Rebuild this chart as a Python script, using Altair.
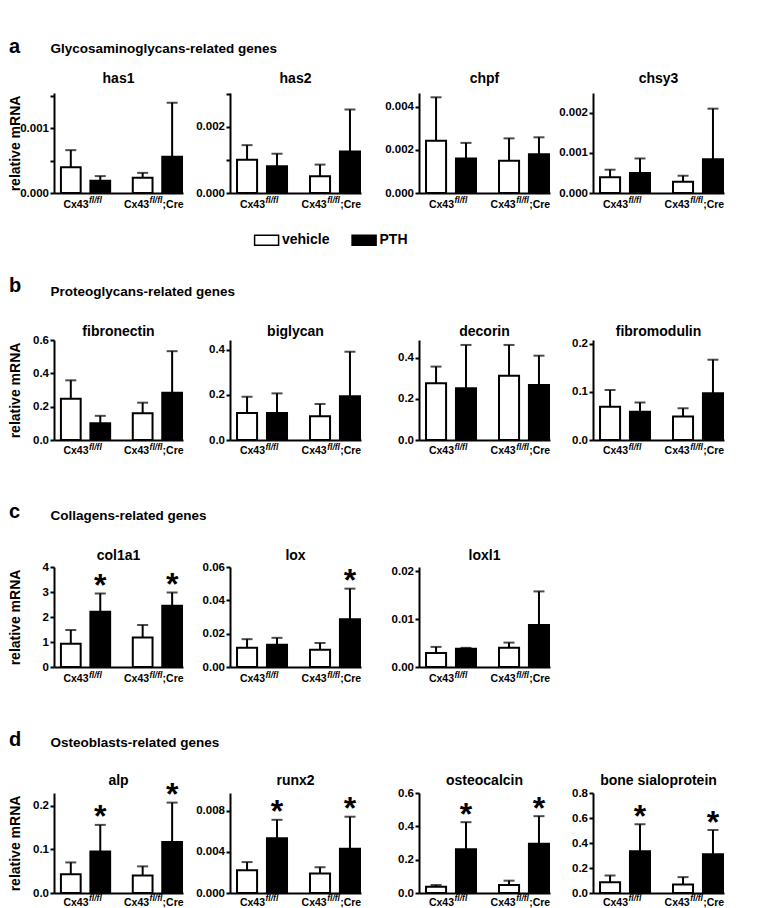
import altair as alt
import pandas as pd

FONT = "Liberation Sans"

genotypes = ["Cx43fl/fl", "Cx43fl/fl;Cre"]
treatments = ["vehicle", "PTH"]

section_letters = ["a", "b", "c", "d"]
section_titles = [
    "Glycosaminoglycans-related genes",
    "Proteoglycans-related genes",
    "Collagens-related genes",
    "Osteoblasts-related genes",
]
row_genes = [
    ["has1", "has2", "chpf", "chsy3"],
    ["fibronectin", "biglycan", "decorin", "fibromodulin"],
    ["col1a1", "lox", "loxl1"],
    ["alp", "runx2", "osteocalcin", "bone sialoprotein"],
]

# order: fl/fl vehicle, fl/fl PTH, fl/fl;Cre vehicle, fl/fl;Cre PTH
mean_vals = {
    "has1": [0.000395, 0.00019, 0.000235, 0.00056],
    "has2": [0.00101, 0.00081, 0.00051, 0.00126],
    "chpf": [0.00243, 0.00161, 0.0015, 0.0018],
    "chsy3": [0.00039, 0.0005, 0.00028, 0.00084],
    "fibronectin": [0.248, 0.101, 0.161, 0.284],
    "biglycan": [0.12, 0.12, 0.105, 0.194],
    "decorin": [0.275, 0.251, 0.312, 0.267],
    "fibromodulin": [0.069, 0.059, 0.049, 0.097],
    "col1a1": [0.93, 2.21, 1.18, 2.45],
    "lox": [0.0115, 0.0134, 0.0103, 0.0286],
    "loxl1": [0.0029, 0.0038, 0.004, 0.0088],
    "alp": [0.043, 0.095, 0.04, 0.117],
    "runx2": [0.0022, 0.0053, 0.0019, 0.0043],
    "osteocalcin": [0.038, 0.262, 0.048, 0.296],
    "bone sialoprotein": [0.087, 0.334, 0.068, 0.31],
}
upper_vals = {
    "has1": [0.00066, 0.00026, 0.00031, 0.00139],
    "has2": [0.00145, 0.00119, 0.00086, 0.00253],
    "chpf": [0.00445, 0.00233, 0.00254, 0.00259],
    "chsy3": [0.00058, 0.00086, 0.00043, 0.0021],
    "fibronectin": [0.358, 0.145, 0.224, 0.533],
    "biglycan": [0.192, 0.207, 0.16, 0.392],
    "decorin": [0.356, 0.461, 0.461, 0.409],
    "fibromodulin": [0.104, 0.078, 0.066, 0.167],
    "col1a1": [1.48, 2.94, 1.68, 2.98],
    "lox": [0.0167, 0.0175, 0.0144, 0.047],
    "loxl1": [0.0042, 0.004, 0.0051, 0.0158],
    "alp": [0.07, 0.156, 0.061, 0.207],
    "runx2": [0.003, 0.0071, 0.0025, 0.0074],
    "osteocalcin": [0.048, 0.425, 0.074, 0.461],
    "bone sialoprotein": [0.14, 0.55, 0.127, 0.504],
}
star_flags = {
    "col1a1": [0, 1, 0, 1],
    "lox": [0, 0, 0, 1],
    "alp": [0, 1, 0, 1],
    "runx2": [0, 1, 0, 1],
    "osteocalcin": [0, 1, 0, 1],
    "bone sialoprotein": [0, 1, 0, 1],
}
y_top = {
    "has1": 0.00154, "has2": 0.00303, "chpf": 0.00465, "chsy3": 0.00249,
    "fibronectin": 0.6, "biglycan": 0.444, "decorin": 0.485, "fibromodulin": 0.208,
    "col1a1": 4.0, "lox": 0.06, "loxl1": 0.0209,
    "alp": 0.229, "runx2": 0.0097, "osteocalcin": 0.6, "bone sialoprotein": 0.8,
}
y_ticks = {
    "has1": [0, 0.0005, 0.001, 0.0015], "has2": [0, 0.001, 0.002, 0.003],
    "chpf": [0, 0.002, 0.004], "chsy3": [0, 0.001, 0.002],
    "fibronectin": [0, 0.2, 0.4, 0.6], "biglycan": [0, 0.2, 0.4],
    "decorin": [0, 0.2, 0.4], "fibromodulin": [0, 0.1, 0.2],
    "col1a1": [0, 1, 2, 3, 4], "lox": [0, 0.02, 0.04, 0.06], "loxl1": [0, 0.01, 0.02],
    "alp": [0, 0.1, 0.2], "runx2": [0, 0.004, 0.008],
    "osteocalcin": [0, 0.2, 0.4, 0.6], "bone sialoprotein": [0, 0.2, 0.4, 0.6, 0.8],
}
y_unlabeled = {"has1": [0.0005, 0.0015], "has2": [0.001, 0.003]}
y_fmt = {
    "has1": ".3f", "has2": ".3f", "chpf": ".3f", "chsy3": ".3f",
    "fibronectin": ".1f", "biglycan": ".1f", "decorin": ".1f", "fibromodulin": ".1f",
    "col1a1": "d", "lox": ".2f", "loxl1": ".2f",
    "alp": ".1f", "runx2": ".3f", "osteocalcin": ".1f", "bone sialoprotein": ".1f",
}
# x label pieces: (genotype, text, dx, dy, size, style, align)
x_label_parts = [
    (genotypes[0], "Cx43", 3, 0, 10.5, "normal", "right"),
    (genotypes[0], "fl/fl", 3.5, -4.4, 8.5, "italic", "left"),
    (genotypes[1], "Cx43", -8.3, 0, 10.5, "normal", "right"),
    (genotypes[1], "fl/fl", -7.8, -4.4, 8.5, "italic", "left"),
    (genotypes[1], ";Cre", 5.2, 0, 10.5, "normal", "left"),
]

# layout
plot_w = [129, 131, 131, 131]
cell_w = [132.4, 146, 131, 131]
ROW_H = 100
header_h = [63, 146.3, 126.4, 125.8]
title_y = [-9.7, -4.3, -7.4, -8.2]
xlabel_y = [14.5, 14, 15, 12.5]
letter_y = [22.7, 99, 77.7, 79.3]
htext_y = [22.7, 103, 79.7, 80.3]

legend = alt.Legend(
    orient="none", legendX=201.6, legendY=199.3, direction="horizontal", title=None,
    symbolType="M-1.2,-0.5H1.2V0.5H-1.2Z", symbolSize=400,
    symbolStrokeColor="black", symbolStrokeWidth=1.5, symbolOpacity=1,
    labelFont=FONT, labelFontSize=14, labelFontWeight="bold", labelColor="black",
    labelOffset=4.4, columnPadding=19.5, padding=0,
)


def panel(gene, col, r):
    W = plot_w[col]
    H = ROW_H
    df = pd.DataFrame({
        "genotype": [g for g in genotypes for t in treatments],
        "treatment": [t for g in genotypes for t in treatments],
        "mean": mean_vals[gene],
        "upper": upper_vals[gene],
        "star": star_flags.get(gene, [0, 0, 0, 0]),
    })
    xs = alt.Scale(domain=genotypes, paddingInner=0.315, paddingOuter=0.055, align=0.875)
    xos = alt.Scale(domain=treatments, paddingInner=0.33, paddingOuter=0)
    ys = alt.Scale(domain=[0, y_top[gene]], nice=False, zero=True)
    xaxis = alt.Axis(labels=False, ticks=False, title=None, grid=False,
                     domainColor="black", domainWidth=2)
    ykw = dict(values=y_ticks[gene], format=y_fmt[gene], grid=False,
               domainColor="black", domainWidth=2, tickColor="black", tickWidth=2,
               tickSize=4, labelPadding=1.5, labelFontSize=11.5, labelFontWeight="bold",
               labelColor="black", labelFont=FONT, labelOverlap=False)
    if gene in y_unlabeled:
        ykw["labelExpr"] = "indexof(%s, datum.value) >= 0 ? '' : datum.label" % (
            "[" + ",".join(str(v) for v in y_unlabeled[gene]) + "]")
    if col == 0:
        ykw.update(title="relative mRNA", titleFont=FONT, titleFontSize=14,
                   titleFontWeight="bold", titleColor="black", titlePadding=1.5,
                   minExtent=30, maxExtent=30)
    else:
        ykw.update(title=None)
    yaxis = alt.Axis(**ykw)

    X = alt.X("genotype:N", scale=xs, axis=xaxis)
    XO = alt.XOffset("treatment:N", scale=xos)
    base = alt.Chart(df)

    bars = base.mark_bar(stroke="black", strokeWidth=2).encode(
        x=X, xOffset=XO,
        y=alt.Y("mean:Q", scale=ys, axis=yaxis),
        fill=alt.Fill("treatment:N", scale=alt.Scale(domain=treatments, range=["white", "black"]),
                      legend=legend),
    )
    err = base.mark_rule(color="black", strokeWidth=2).encode(
        x=X, xOffset=XO, y=alt.Y("mean:Q", scale=ys, axis=yaxis), y2="upper:Q")
    cap = base.mark_tick(color="black", thickness=2, size=11, orient="horizontal").encode(
        x=X, xOffset=XO, y=alt.Y("upper:Q", scale=ys, axis=yaxis))
    layers = [bars, err, cap]
    if gene in star_flags:
        stars = base.transform_filter("datum.star == 1").mark_text(
            text="*", fontSize=32, fontWeight="bold", font=FONT, color="black",
            baseline="alphabetic", dy=2.5).encode(
            x=X, xOffset=XO, y=alt.Y("upper:Q", scale=ys, axis=yaxis))
        layers.append(stars)
    lab_df = pd.DataFrame({"genotype": genotypes})
    for g, txt, dx, dy, size, style, align in x_label_parts:
        layers.append(
            alt.Chart(lab_df).transform_filter(alt.datum.genotype == g).mark_text(
                text=txt, dx=dx, dy=dy, fontSize=size, fontStyle=style, fontWeight="bold",
                font=FONT, color="black", align=align, baseline="alphabetic").encode(
                x=X, y=alt.value(H + xlabel_y[r])))
    ttl = alt.Chart(pd.DataFrame({"t": [gene]})).mark_text(
        fontSize=14, fontWeight="bold", font=FONT, color="black", align="center",
        baseline="alphabetic").encode(text="t:N", x=alt.value(W / 2), y=alt.value(title_y[r]))
    layers.append(ttl)
    return alt.layer(*layers).properties(width=W, height=H)


def header_cell(r):
    df = pd.DataFrame({"letter": [section_letters[r]], "title": [section_titles[r]]})
    letter = alt.Chart(df).mark_text(
        align="left", baseline="alphabetic", fontSize=20, fontWeight="bold",
        font=FONT, color="black").encode(text="letter:N", x=alt.value(-45), y=alt.value(letter_y[r]))
    title = alt.Chart(df).mark_text(
        align="left", baseline="alphabetic", fontSize=13.5, fontWeight="bold",
        font=FONT, color="black").encode(text="title:N", x=alt.value(-3.6), y=alt.value(htext_y[r]))
    return alt.layer(letter, title).properties(width=cell_w[0], height=header_h[r])


def blank(w, h):
    return alt.Chart(pd.DataFrame({"v": [""]})).mark_text().encode(
        text="v:N").properties(width=w, height=h)


cells = []
for r in range(4):
    cells.append(header_cell(r))
    for c in range(1, 4):
        cells.append(blank(cell_w[c], header_h[r]))
    for c in range(4):
        if c < len(row_genes[r]):
            cells.append(panel(row_genes[r][c], c, r))
        else:
            cells.append(blank(plot_w[c], ROW_H))

chart = alt.concat(
    *cells, columns=4, spacing={"row": 0, "column": 43}, bounds="flush"
).resolve_scale(
    x="independent", y="independent", xOffset="independent", fill="shared"
).properties(
    padding={"left": 0, "top": 22, "right": 0, "bottom": 0}
).configure_view(strokeWidth=0)

chart.save("out.html", embed_options={"renderer": "svg", "actions": False})
